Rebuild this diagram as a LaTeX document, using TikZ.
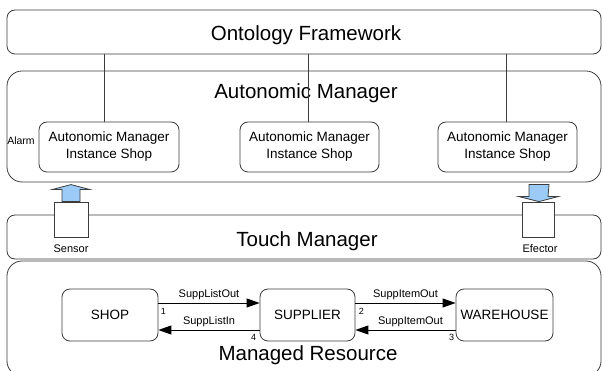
\documentclass[tikz,border=0pt]{standalone}
\usepackage{fontspec}
\setmainfont{Liberation Sans}
\usetikzlibrary{arrows.meta,calc}
\definecolor{ln}{HTML}{3C3C3C}
\definecolor{bl}{HTML}{9DCBF7}
\begin{document}
\begin{tikzpicture}[x=1pt,y=-1pt,
  bigbox/.style={draw=ln, line width=0.8pt, rounded corners=8pt, inner sep=0pt},
  layerbox/.style={draw=ln, line width=0.8pt, rounded corners=15pt, inner sep=0pt},
  subbox/.style={draw=ln, line width=0.8pt, rounded corners=8pt, align=center,
    minimum width=139pt, minimum height=50pt, inner sep=0pt,
    font=\fontsize{13.5}{17}\selectfont},
  resbox/.style={draw=ln, line width=0.8pt, rounded corners=8pt,
    minimum height=52pt, inner sep=0pt, font=\fontsize{13.5}{16}\selectfont},
  devbox/.style={draw=ln, line width=0.8pt, fill=white, minimum width=34pt, minimum height=35pt, inner sep=0pt},
  title/.style={font=\fontsize{20.5}{24}\selectfont, inner sep=0pt},
  small/.style={font=\fontsize{11}{13}\selectfont, inner sep=0pt},
  num/.style={font=\fontsize{9}{10}\selectfont, inner sep=0pt},
  conn/.style={draw=ln, line width=0.8pt},
  arr/.style={draw=black, line width=0.9pt, -{Triangle[length=13pt,width=9pt]}},
  devarrow/.style={fill=bl, draw=ln, line width=0.8pt, line join=miter}
]
\useasboundingbox (0,0) rectangle (603,371);
\clip (0,0) rectangle (603,371);

% Ontology framework
\node[bigbox, minimum width=594pt, minimum height=44pt, title] (ont) at (304,32) {};
\node[title] (ontt) at (306,35) {Ontology Framework};

% Autonomic manager layer
\node[layerbox, minimum width=594pt, minimum height=111pt] (am) at (304,126.5) {};
\node[title] (amt) at (306,93) {Autonomic Manager};
\node[subbox, minimum width=140pt] (sub1) at (109,147) {Autonomic Manager\\Instance Shop};
\node[subbox] (sub2) at (309.5,147) {Autonomic Manager\\Instance Shop};
\node[subbox] (sub3) at (507.5,147) {Autonomic Manager\\Instance Shop};
\node[font=\fontsize{10.5}{12}\selectfont, inner sep=0pt] (alarm) at (21,141) {Alarm};

\draw[conn] ([xshift=-5pt]sub1.north) -- ([xshift=-5pt]sub1.north |- ont.south);
\draw[conn] ([xshift=-1.5pt]sub2.north) -- ([xshift=-1.5pt]sub2.north |- ont.south);
\draw[conn] ([xshift=-1.5pt]sub3.north) -- ([xshift=-1.5pt]sub3.north |- ont.south);

% Touch manager layer
\node[bigbox, minimum width=594pt, minimum height=44pt] (tm) at (304,237) {};
\node[title] (tmt) at (307,241) {Touch Manager};

% Managed resource layer
\node[layerbox, minimum width=594pt, minimum height=115pt] (mr) at (304,318.5) {};
\node[title] (mrt) at (308,355) {Managed Resource};

% Sensor / Efector
\node[devbox] (sens) at (71,219.5) {};
\node[small] (senst) at (71,249) {Sensor};
\filldraw[devarrow] ($(sens.north)+(-9,0)$) -- ++(0,-12) -- ++(-10,0)
  -- ($(sens.north)+(0,-17)$) -- ($(sens.north)+(19,-12)$) -- ++(-10,0) -- ($(sens.north)+(9,0)$) -- cycle;

\node[devbox, minimum width=32pt] (eff) at (538,219.5) {};
\node[small] (efft) at (540,249) {Efector};
\filldraw[devarrow] ($(eff.north)+(-9,-17)$) -- ++(0,12) -- ++(-10,0)
  -- ($(eff.north)+(1,0)$) -- ($(eff.north)+(20,-5)$) -- ++(-10,0) -- ($(eff.north)+(11,-17)$) -- cycle;

% Resources
\node[resbox, minimum width=96pt] (shop) at (110,315) {SHOP};
\node[resbox, minimum width=95pt] (sup) at (307.5,315) {SUPPLIER};
\node[resbox, minimum width=97pt] (wh) at (504.5,315) {WAREHOUSE};

\draw[arr] ([yshift=12pt]shop.east) -- node[small, above=3pt] {SuppListOut} ([yshift=12pt]sup.west);
\draw[arr] ([yshift=-15pt]sup.west) -- node[small, above=3pt] {SuppListIn} ([yshift=-15pt]shop.east);
\draw[arr] ([yshift=12pt]sup.east) -- node[small, above=3pt] {SuppItemOut} ([yshift=12pt]wh.west);
\draw[arr] ([yshift=-15pt]wh.west) -- node[small, above=3pt, xshift=5pt] {SuppItemOut} ([yshift=-15pt]sup.east);

\node[num] (n1) at ($(shop.east)+(5,-4)$) {1};
\node[num] (n4) at ($(sup.west)+(-6,22)$) {4};
\node[num] (n2) at ($(sup.east)+(6,-4)$) {2};
\node[num] (n3) at ($(wh.west)+(-4,22)$) {3};
\end{tikzpicture}
\end{document}
